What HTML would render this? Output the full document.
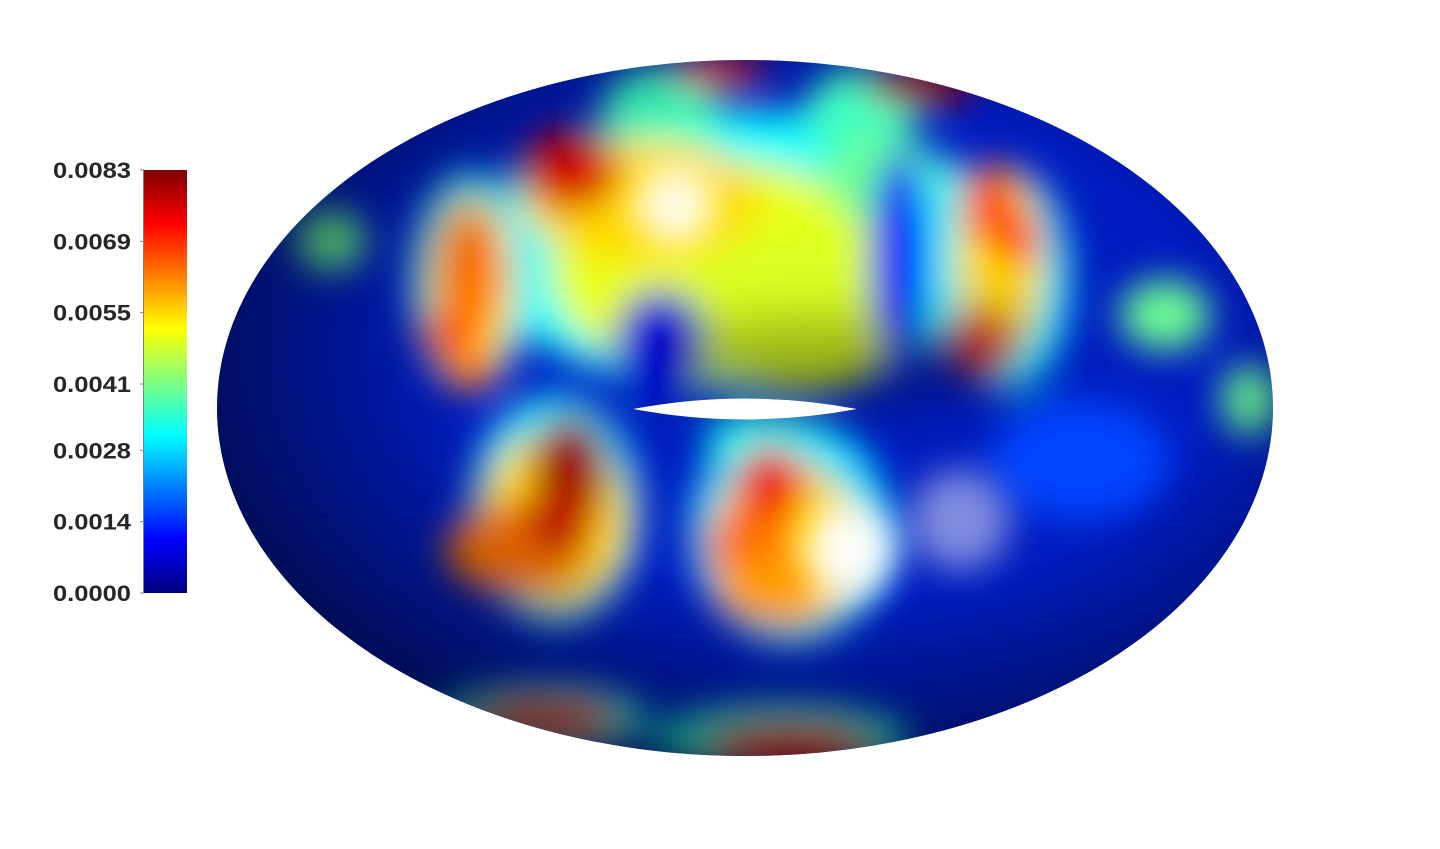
<!DOCTYPE html>
<html><head><meta charset="utf-8"><style>
html,body{margin:0;padding:0;background:#fff;}
svg{display:block;}
text{font-family:"Liberation Sans",Arial,sans-serif;font-weight:bold;font-size:22px;fill:#262626;}
</style></head><body>
<svg id="chart" width="1440" height="849" viewBox="0 0 1440 849" xmlns="http://www.w3.org/2000/svg">
<defs>
<linearGradient id="jet" x1="0" y1="1" x2="0" y2="0">
<stop offset="0" stop-color="#00007f"/><stop offset="0.125" stop-color="#0000ff"/>
<stop offset="0.375" stop-color="#00ffff"/><stop offset="0.625" stop-color="#ffff00"/>
<stop offset="0.875" stop-color="#ff0000"/><stop offset="1" stop-color="#7f0000"/>
</linearGradient>
<clipPath id="torusClip"><path d="M217,408 A528,348 0 1,0 1273,408 A528,348 0 1,0 217,408 Z M633,409 Q745,388 857,409 Q745,430 633,409 Z" clip-rule="evenodd"/></clipPath>
<filter id="blur" x="-30%" y="-30%" width="160%" height="160%"><feGaussianBlur stdDeviation="18"/></filter>
<filter id="blur2" x="-50%" y="-50%" width="200%" height="200%"><feGaussianBlur stdDeviation="18"/></filter>
<filter id="blur3" x="-50%" y="-50%" width="200%" height="200%"><feGaussianBlur stdDeviation="30"/></filter>
<radialGradient id="shade" cx="0.58" cy="0.42" r="0.62">
<stop offset="0.55" stop-color="#000" stop-opacity="0"/><stop offset="1" stop-color="#000" stop-opacity="0.6"/>
</radialGradient>
</defs>
<g id="torus" clip-path="url(#torusClip)">
<rect x="200" y="50" width="1100" height="720" fill="#001cc0"/>
<g id="blobs" filter="url(#blur)"></g>
<g filter="url(#blur3)"><ellipse cx="830" cy="365" rx="190" ry="40" fill="#000" opacity="0.35"/><ellipse cx="990" cy="340" rx="40" ry="30" fill="#000" opacity="0.3"/></g>
<g id="hilites" filter="url(#blur2)"></g>
<rect x="200" y="50" width="1100" height="720" fill="url(#shade)"/>
</g>
<g id="colorbar">
<rect x="144" y="170" width="43" height="423" fill="url(#jet)"/>
<line x1="143.5" y1="170" x2="143.5" y2="593" stroke="#808080" stroke-width="1"/>
<g id="ticks"></g>
</g>
</svg>
<script>
const tickLabels=["0.0000","0.0014","0.0028","0.0041","0.0055","0.0069","0.0083"];
const tickValues=[0,0.0014,0.0028,0.0041,0.0055,0.0069,0.0083];
const vmin=0,vmax=0.0083;
// surface patches (drawn in order): projected centers, extents, field value
const blobX=[1080,740,660,860,470,1010,555,790,780,540,330,1165,1250,760,
  720,800,640,880,900,660,
  470,1000,555,785,
  570,470,450,990,1020,980,515,570,560,770,750,770,790,545,720,920,470];
const blobY=[460,250,115,115,280,280,510,530,740,720,240,315,400,440,
  270,310,200,180,260,345,
  290,260,520,545,
  170,270,335,205,240,345,550,470,520,485,545,590,750,720,70,85,370];
const blobRx=[90,270,60,55,60,60,85,100,130,110,35,45,28,55,
  170,120,120,55,30,45,
  45,45,75,75,
  50,30,30,30,22,30,70,38,38,35,45,55,80,70,45,55,30];
const blobRy=[60,140,50,50,110,110,115,115,35,35,30,35,35,30,
  110,80,60,45,110,55,
  95,95,90,85,
  40,60,25,40,25,30,45,55,35,40,40,35,25,22,15,20,20];
const blobV=[0.0016,0.0031,0.0036,0.0036,0.0030,0.0030,0.0030,0.0029,0.0034,0.0032,0.0040,0.0040,0.0040,0.0032,
  0.0050,0.0049,0.0055,0.0040,0.0010,0.0008,
  0.0055,0.0055,0.0055,0.0055,
  0.0076,0.0064,0.0066,0.0066,0.0070,0.0072,0.0063,0.0081,0.0078,0.0074,0.0064,0.0060,0.0074,0.0068,0.0072,0.0080,0.0062];
const hiX=[675,850,960];
const hiY=[205,550,520];
const hiR=[42,45,50];
const hiA=[0.9,0.95,0.5];
function jet(v){
  let t=(v-vmin)/(vmax-vmin);
  const cl=x=>Math.max(0,Math.min(1,x));
  const r=cl(1.5-Math.abs(4*t-3)),g=cl(1.5-Math.abs(4*t-2)),b=cl(1.5-Math.abs(4*t-1));
  return `rgb(${Math.round(r*255)},${Math.round(g*255)},${Math.round(b*255)})`;
}
const ns="http://www.w3.org/2000/svg";
const yScale=v=>593-(v-vmin)/(vmax-vmin)*423;
const bg=document.getElementById('blobs');
for(let i=0;i<blobX.length;i++){
  const e=document.createElementNS(ns,'ellipse');
  e.setAttribute('cx',blobX[i]);e.setAttribute('cy',blobY[i]);
  e.setAttribute('rx',blobRx[i]);e.setAttribute('ry',blobRy[i]);
  e.setAttribute('fill',jet(blobV[i]));
  
  
  bg.appendChild(e);
}
const hg=document.getElementById('hilites');
for(let i=0;i<hiX.length;i++){
  const e=document.createElementNS(ns,'circle');
  e.setAttribute('cx',hiX[i]);e.setAttribute('cy',hiY[i]);e.setAttribute('r',hiR[i]);
  e.setAttribute('fill','#fff');e.setAttribute('opacity',hiA[i]);
  
  
  hg.appendChild(e);
}
const tg=document.getElementById('ticks');
for(let i=0;i<tickValues.length;i++){
  const y=yScale(tickValues[i]);
  const l=document.createElementNS(ns,'line');
  l.setAttribute('x1',140);l.setAttribute('x2',144);l.setAttribute('y1',y);l.setAttribute('y2',y);
  l.setAttribute('stroke','#808080');
  
  
  tg.appendChild(l);
  const t=document.createElementNS(ns,'text');
  t.setAttribute('x',53);t.setAttribute('y',y+8);
  t.setAttribute('textLength',78);t.setAttribute('lengthAdjust','spacingAndGlyphs');
  t.textContent=tickLabels[i];
  
  
  tg.appendChild(t);
}
</script>
</body></html>
